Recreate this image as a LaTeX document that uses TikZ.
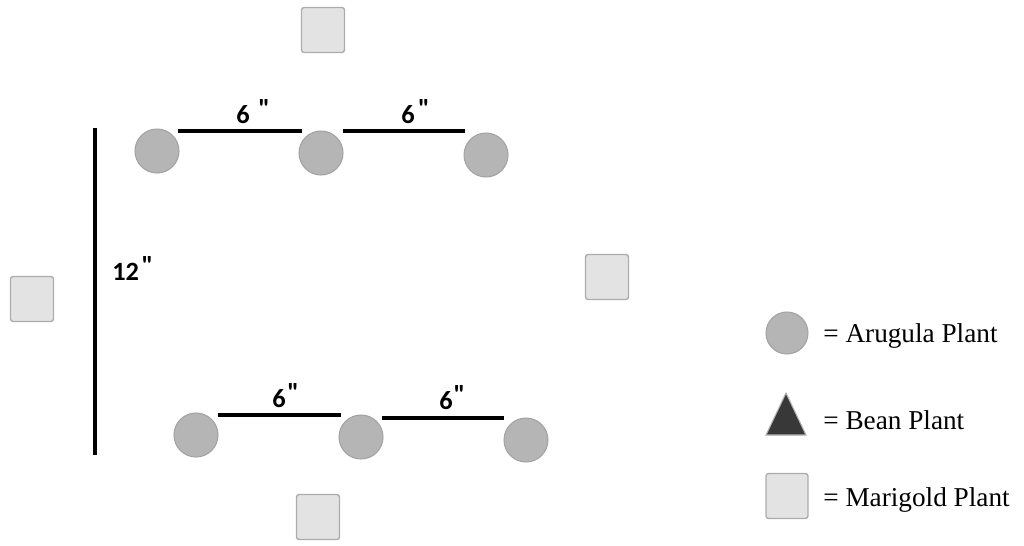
\documentclass[tikz,border=0pt]{standalone}
\usepackage{fontspec}
\setmainfont{Liberation Serif}
\newfontfamily\dimfont{Carlito}
\newcommand{\inch}{\raisebox{0.45ex}{\symbol{34}}}
\begin{document}
\begin{tikzpicture}[x=0.02cm,y=-0.02cm,
  plant/.style={circle,fill=gray!58,draw=gray!72,line width=0.6pt,minimum size=44*0.02cm,inner sep=0pt},
  marigold/.style={rectangle,rounded corners=1.5pt,fill=gray!22,draw=gray!65,line width=0.8pt,minimum width=43*0.02cm,minimum height=45*0.02cm,inner sep=0pt},
  dimline/.style={line width=2.3pt,black},
  dimlabel/.style={font=\dimfont\bfseries\fontsize{15}{17}\selectfont,inner sep=0pt,anchor=base west},
  legtext/.style={font=\fontsize{15.5}{18}\selectfont,anchor=west,inner sep=0pt}]
\useasboundingbox (0,0) rectangle (1024,545);
% marigolds
\node[marigold] (mt) at (323,30) {};
\node[marigold] (ml) at (32,299) {};
\node[marigold] (mr) at (607,277) {};
\node[marigold] (mb) at (318,517) {};
% top row
\node[plant] (a1) at (157,151) {};
\node[plant] (a2) at (321,153) {};
\node[plant] (a3) at (486,155) {};
% bottom row
\node[plant] (b1) at (196,435) {};
\node[plant] (b2) at (361,437) {};
\node[plant] (b3) at (526,440) {};
% dimension lines
\coordinate (t1s) at (178,131); \coordinate (t1e) at (302,131);
\coordinate (t2s) at (343,131); \coordinate (t2e) at (465,131);
\coordinate (u1s) at (218,415); \coordinate (u1e) at (341,415);
\coordinate (u2s) at (382,418); \coordinate (u2e) at (504,418);
\coordinate (vs) at (95,128); \coordinate (ve) at (95,455);
\draw[dimline] (t1s) -- (t1e);
\draw[dimline] (t2s) -- (t2e);
\draw[dimline] (u1s) -- (u1e);
\draw[dimline] (u2s) -- (u2e);
\draw[dimline] (vs) -- (ve);
\node[dimlabel] (l1) at (236,123) {6\hspace{5pt}\inch};
\node[dimlabel] (l2) at (401,123) {6\hspace{2pt}\inch};
\node[dimlabel] (l3) at (272,407) {6\hspace{1pt}\inch};
\node[dimlabel] (l4) at (439,409) {6\hspace{0.5pt}\inch};
\node[dimlabel] (l5) at (112,280) {12\hspace{1.5pt}\inch};
% legend
\node[plant,minimum size=42*0.02cm] (ka) at (787,333) {};
\fill[black!78,draw=gray!60,line width=0.6pt] (786,393) -- (806,435) -- (766,435) -- cycle;
\coordinate (kb) at (786,418);
\node[marigold,minimum width=42*0.02cm] (km) at (787,496) {};
\node[legtext] (ta) at (823,336) {= Arugula Plant};
\node[legtext] (tb) at (823,420) {= Bean Plant};
\node[legtext] (tm) at (823,500) {= Marigold Plant};
\end{tikzpicture}
\end{document}
